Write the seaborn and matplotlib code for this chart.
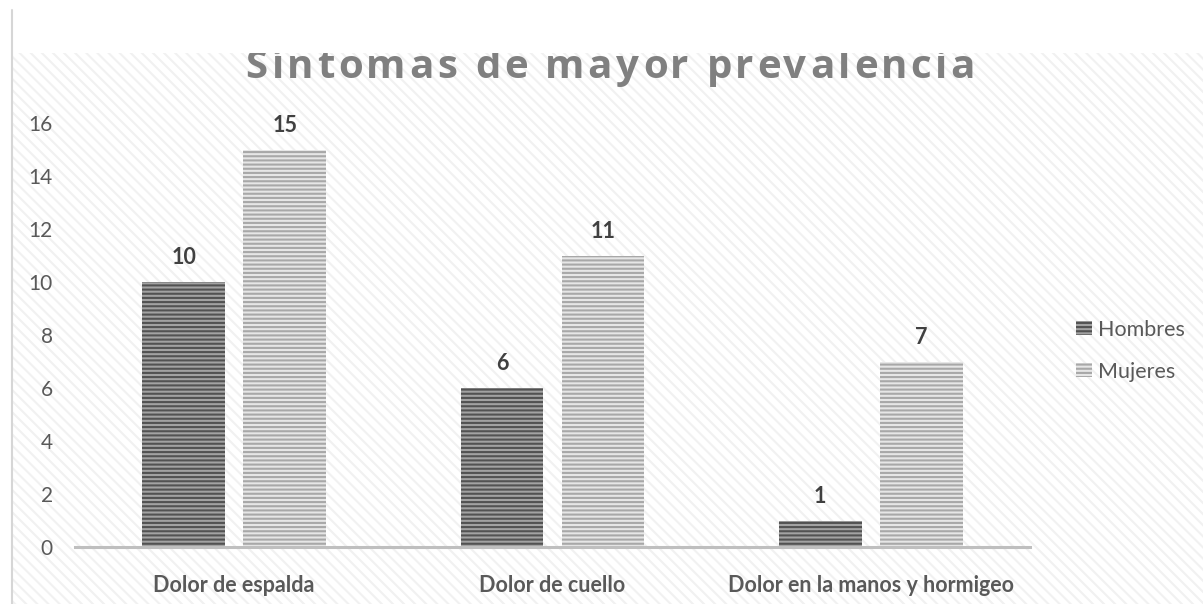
import matplotlib
matplotlib.use("Agg")
import matplotlib.pyplot as plt
from matplotlib.patches import Rectangle, Patch
from matplotlib.lines import Line2D
from matplotlib.transforms import Bbox, TransformedBbox
import seaborn as sns
import pandas as pd

# --- data -------------------------------------------------------------
sintomas = ["Dolor de espalda", "Dolor de cuello", "Dolor en la manos y hormigeo"]
hombres = [10, 6, 1]
mujeres = [15, 11, 7]
series = ["Hombres", "Mujeres"]
y_ticks = [0, 2, 4, 6, 8, 10, 12, 14, 16]
titulo = "Síntomas de mayor prevalencia"

df = pd.DataFrame({
    "sintoma": sintomas * 2,
    "valor": hombres + mujeres,
    "sexo": [series[0]] * len(hombres) + [series[1]] * len(mujeres),
})

# --- style ------------------------------------------------------------
sns.set_style("white")
plt.rcParams["font.family"] = ["Lato", "DejaVu Sans"]
plt.rcParams["hatch.linewidth"] = 1.5

W, H = 1203, 604
fig = plt.figure(figsize=(W / 100, H / 100), dpi=100, facecolor="white")

# faint striped chart-area background
bg_top = (H - 53) / H
bg = Rectangle((11 / W, 0), 1 - 11 / W, bg_top, transform=fig.transFigure,
               facecolor="white", edgecolor="#f1f1f1", hatch="\\\\\\",
               linewidth=0, zorder=-5)
fig.patches.append(bg)
fig.lines.append(Line2D([11.5 / W, 11.5 / W], [0, 1 - 10 / H],
                        transform=fig.transFigure, color="#d6d6d6", lw=1.5))

ax = fig.add_axes([75 / W, 1 - 547 / H, (1030 - 75) / W, (547 - 123) / H])
ax.set_facecolor("none")

# face / stripe colours for each series
face = {"Hombres": "#a2a2a2", "Mujeres": "#e6e6e6"}
stripe = {"Hombres": "#525252", "Mujeres": "#a8a8a8"}

sns.barplot(data=df, x="sintoma", y="valor", hue="sexo", hue_order=series,
            order=sintomas, width=0.635, gap=0.18, legend=False, ax=ax,
            palette=face, saturation=1)

for name, cont in zip(series, ax.containers):
    for p in cont:
        p.set_facecolor(face[name])
        p.set_edgecolor(stripe[name])
        p.set_hatch("----")
        p.set_linewidth(0)
    ax.bar_label(cont, fmt="%.0f", padding=10, fontsize=15.5,
                 fontweight="bold", color="#404040")

ax.set_xlim(-0.5, len(sintomas) - 0.5)
ax.set_ylim(0, 16)
ax.set_yticks(y_ticks)
ax.set_xlabel("")
ax.set_ylabel("")
for s in ["top", "right", "left"]:
    ax.spines[s].set_visible(False)
ax.spines["bottom"].set_color("#bfbfbf")
ax.spines["bottom"].set_linewidth(2.2)
ax.tick_params(axis="y", length=0, pad=16, labelsize=15, labelcolor="#595959")
ax.tick_params(axis="x", length=0, pad=20, labelsize=15.5, labelcolor="#595959")
for lab in ax.get_xticklabels():
    lab.set_fontweight("bold")

# legend
handles = [Patch(facecolor=face[n], edgecolor=stripe[n], hatch="----", linewidth=0)
           for n in series]
fig.legend(handles, series, loc="center left",
           bbox_to_anchor=(1076 / W, 1 - 351 / H), frameon=False,
           fontsize=15.5, labelcolor="#595959", handlelength=0.72,
           handleheight=0.62, handletextpad=0.3, labelspacing=1.02,
           borderpad=0, borderaxespad=0)

# title with wide letter spacing, cut off where the striped area begins
fig.canvas.draw()
renderer = fig.canvas.get_renderer()
tkw = dict(fontsize=29, fontweight="bold", color="#808080",
           family=["Open Sans", "DejaVu Sans"])


def text_width(s):
    t = fig.text(0, 0, s, **tkw)
    w = t.get_window_extent(renderer).width
    t.remove()
    return w


base = text_width("xx")
advances = [text_width("x" + c + "x") - base for c in titulo]
natural = sum(advances)
target = 730.0
tracking = (target - natural) / (len(titulo) - 1)
clip = TransformedBbox(Bbox.from_extents(0, 0, 1, bg_top), fig.transFigure)
x = 610 - target / 2
for c, a in zip(titulo, advances):
    t = fig.text(x / W, 1 - 78 / H, c, ha="left", va="baseline", **tkw)
    t.set_clip_box(clip)
    t.set_clip_on(True)
    x += a + tracking

fig.savefig("out.png", dpi=100, facecolor="white")
